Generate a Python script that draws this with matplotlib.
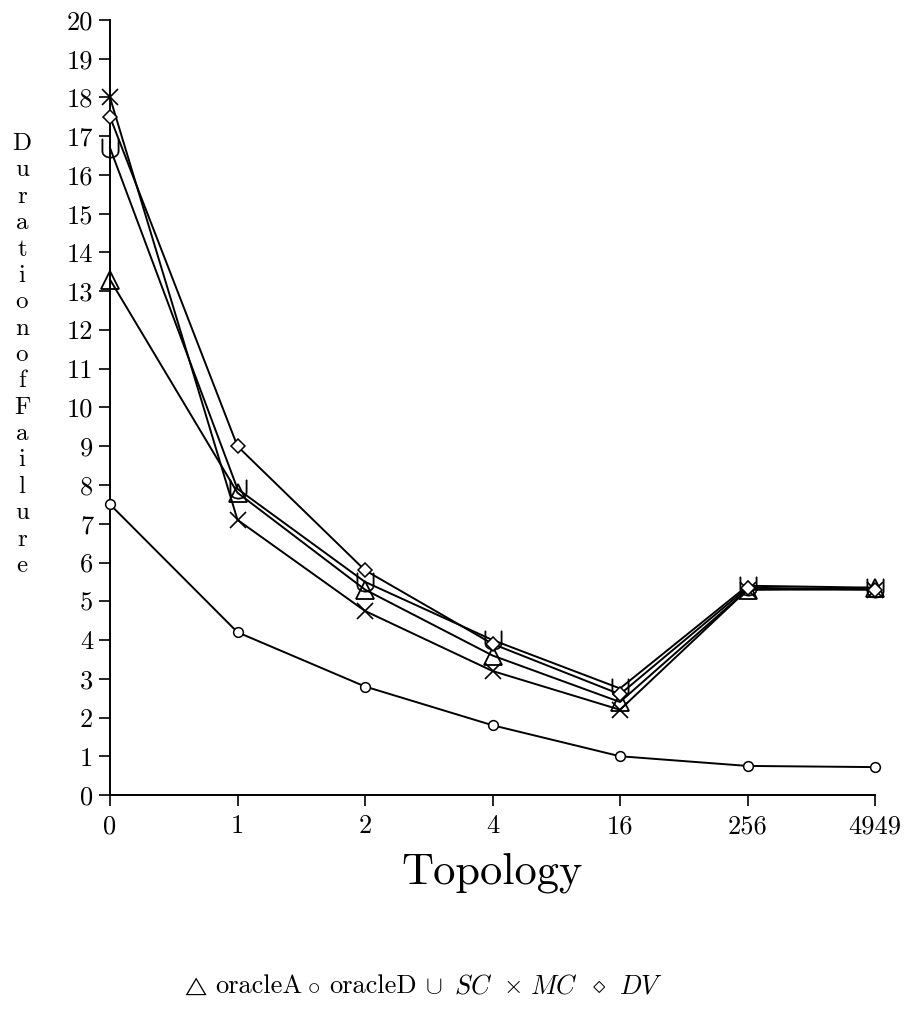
import matplotlib
matplotlib.use('Agg')
import matplotlib.pyplot as plt

# ---- data ----
categories = ['0', '1', '2', '4', '16', '256', '4949']
oracleA = [13.3, 7.8, 5.3, 3.6, 2.4, 5.3, 5.35]
oracleD = [7.5, 4.2, 2.8, 1.8, 1.0, 0.75, 0.72]
SC = [16.7, 7.9, 5.5, 4.0, 2.75, 5.4, 5.35]
MC = [18.0, 7.1, 4.75, 3.2, 2.2, 5.3, 5.3]
DV = [17.5, 9.0, 5.8, 3.9, 2.6, 5.35, 5.3]
yticks = list(range(0, 21))
xlabel = 'Topology'
ylabel = 'DurationofFailure'
legend_symbols = [r'$\triangle$', r'$\circ$', r'$\cup$', r'$\times$', r'$\diamond$']
legend_labels = ['oracleA', 'oracleD', r'$SC$', r'$MC$', r'$DV$']

plt.rcParams['font.family'] = 'cmr10'
plt.rcParams['mathtext.fontset'] = 'cm'
plt.rcParams['axes.formatter.use_mathtext'] = True

W, H = 916, 1021
fig = plt.figure(figsize=(W / 100, H / 100), dpi=100)
ax = fig.add_axes([110 / W, 1 - 795 / H, (875 - 110) / W, (795 - 20) / H])

x = list(range(len(categories)))
style = dict(color='black', lw=1.4, clip_on=False, zorder=3)
ax.plot(x, oracleD, marker='o', ms=7, mfc='white', mec='black', mew=1.1, **style)
ax.plot(x, MC, marker='x', ms=11, mec='black', mew=1.2, **style)
ax.plot(x, oracleA, marker='^', ms=13, mfc='none', mec='black', mew=1.3, **style)
ax.plot(x, SC, marker=r'$\cup$', ms=14, mec='black', mfc='black', mew=0.3, **style)
ax.plot(x, DV, marker='D', ms=7, mfc='white', mec='black', mew=1.1, **style)

ax.set_xlim(0, len(categories) - 1)
ax.set_ylim(0, 20)
ax.set_yticks(yticks)
ax.set_yticklabels([str(v) for v in yticks])
ax.set_xticks(x)
ax.set_xticklabels(categories)
for s in ['top', 'right']:
    ax.spines[s].set_visible(False)
for s in ['left', 'bottom']:
    ax.spines[s].set_linewidth(1.4)
ax.tick_params(direction='out', length=8, width=1.2, labelsize=19, pad=4)
ax.tick_params(axis='x', pad=6)

ax.set_xlabel(xlabel, fontsize=32, labelpad=10)

# stacked vertical y-label
n = len(ylabel)
top_b, bot_b = 150, 572
for i, ch in enumerate(ylabel):
    yb = top_b + (bot_b - top_b) * i / (n - 1)
    fig.text(22 / W, 1 - yb / H, ch, fontsize=18, ha='center', va='baseline')

# legend as a row of symbol + text
sym_x = [181, 307, 425, 503, 592]
sym_size = [14, 18, 18, 18, 18]
txt_x = [215, 329, 454, 530, 619]
for sx, ss, tx, sym, lab in zip(sym_x, sym_size, txt_x, legend_symbols, legend_labels):
    fig.text(sx / W, 1 - 993 / H, sym, fontsize=ss, ha='left', va='baseline')
    fig.text(tx / W, 1 - 993 / H, lab, fontsize=19, ha='left', va='baseline')

fig.savefig('out.png', dpi=100)
